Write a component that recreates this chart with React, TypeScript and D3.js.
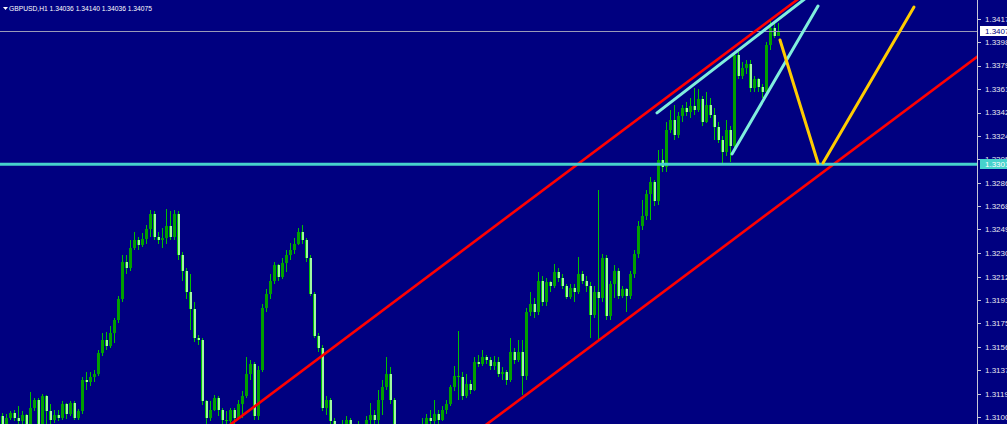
import React from 'react';
import * as d3 from 'd3';

const W = 1007;
const H = 424;
const PLOT_RIGHT = 977;

const symbolTitle = 'GBPUSD,H1';
const lastBar = [1.34036, 1.3414, 1.34036, 1.34075];
const bidPrice = 1.34075;
const levelPrice = 1.33015;

const priceTicks = [1.3417, 1.33988, 1.33799, 1.3361, 1.33425, 1.3324, 1.33055, 1.32865, 1.3268, 1.32499, 1.32308, 1.3212, 1.31935, 1.3175, 1.3156, 1.31375, 1.3119, 1.31005];

const opens = [
  1.3101,1.3095,1.3100,1.3104,1.3100,1.3097,1.3102,1.3095,1.3108,1.3114,
  1.3095,1.3117,1.3105,1.3098,1.3102,1.3100,1.3111,1.3103,1.3112,1.3100,
  1.3105,1.3130,1.3128,1.3132,1.3135,1.3151,1.3162,1.3157,1.3167,1.3178,
  1.3194,1.3224,1.3219,1.3235,1.3241,1.3237,1.3242,1.3250,1.3262,1.3244,
  1.3241,1.3243,1.3252,1.3244,1.3262,1.3229,1.3217,1.3200,1.3186,1.3163,
  1.3162,1.3113,1.3100,1.3106,1.3116,1.3106,1.3098,1.3097,1.3106,1.3100,
  1.3111,1.3117,1.3135,1.3143,1.3101,1.3138,1.3187,1.3198,1.3209,1.3221,
  1.3212,1.3223,1.3229,1.3233,1.3238,1.3248,1.3241,1.3227,1.3198,1.3165,
  1.3155,1.3108,1.3114,1.3097,1.3092,1.3089,1.3093,1.3098,1.3093,1.3089,
  1.3092,1.3090,1.3098,1.3102,1.3098,1.3114,1.3124,1.3135,1.3114,1.3090,
  1.3086,1.3082,1.3087,1.3084,1.3089,1.3092,1.3095,1.3100,1.3097,1.3103,
  1.3098,1.3106,1.3111,1.3124,1.3133,1.3132,1.3117,1.3127,1.3122,1.3144,
  1.3143,1.3148,1.3146,1.3141,1.3144,1.3135,1.3136,1.3130,1.3152,1.3146,
  1.3152,1.3133,1.3184,1.3190,1.3184,1.3209,1.3192,1.3208,1.3205,1.3216,
  1.3211,1.3205,1.3196,1.3203,1.3200,1.3214,1.3209,1.3205,1.3182,1.3200,
  1.3195,1.3227,1.3181,1.3206,1.3217,1.3197,1.3202,1.3197,1.3214,1.3230,
  1.3252,1.3260,1.3278,1.3287,1.3272,1.3305,1.3299,1.3329,1.3337,1.3325,
  1.3340,1.3346,1.3343,1.3348,1.3345,1.3353,1.3335,1.3349,1.3341,1.3331,
  1.3321,1.3311,1.3329,1.3316,1.3388,1.3372,1.3378,1.3381,1.3362,1.3369,
  1.3363,1.3359,1.3396,1.3410,1.34036,
];

const highs = [
  1.3104,1.3103,1.3105,1.3106,1.3109,1.3105,1.3103,1.3120,1.3116,1.3116,
  1.3119,1.3118,1.3111,1.3106,1.3106,1.3113,1.3112,1.3113,1.3113,1.3107,
  1.3132,1.3136,1.3136,1.3138,1.3154,1.3167,1.3168,1.3173,1.3179,1.3197,
  1.3229,1.3229,1.3241,1.3248,1.3244,1.3247,1.3253,1.3265,1.3264,1.3248,
  1.3251,1.3266,1.3264,1.3265,1.3264,1.3232,1.3219,1.3214,1.3192,1.3166,
  1.3163,1.3114,1.3113,1.3118,1.3117,1.3108,1.3105,1.3108,1.3108,1.3114,
  1.3121,1.3148,1.3146,1.3144,1.3141,1.3190,1.3202,1.3214,1.3224,1.3222,
  1.3227,1.3233,1.3239,1.3243,1.3251,1.3253,1.3243,1.3229,1.3200,1.3167,
  1.3158,1.3117,1.3116,1.3100,1.3095,1.3098,1.3101,1.3100,1.3095,1.3097,
  1.3095,1.3101,1.3112,1.3106,1.3122,1.3130,1.3148,1.3140,1.3116,1.3093,
  1.3090,1.3092,1.3090,1.3093,1.3095,1.3100,1.3103,1.3106,1.3114,1.3106,
  1.3109,1.3114,1.3126,1.3141,1.3169,1.3136,1.3135,1.3130,1.3148,1.3150,
  1.3154,1.3150,1.3148,1.3149,1.3148,1.3140,1.3138,1.3163,1.3155,1.3162,
  1.3162,1.3187,1.3200,1.3195,1.3216,1.3213,1.3211,1.3209,1.3222,1.3219,
  1.3214,1.3206,1.3206,1.3206,1.3228,1.3217,1.3213,1.3208,1.3205,1.3281,
  1.3230,1.3229,1.3209,1.3221,1.3219,1.3205,1.3203,1.3217,1.3233,1.3256,
  1.3273,1.3281,1.3291,1.3289,1.3313,1.3314,1.3335,1.3345,1.3349,1.3343,
  1.3349,1.3351,1.3354,1.3362,1.3361,1.3356,1.3359,1.3354,1.3346,1.3335,
  1.3324,1.3337,1.3332,1.3391,1.3391,1.3383,1.3384,1.3384,1.3372,1.3370,
  1.3365,1.3399,1.3416,1.3415,1.34140,
];

const lows = [
  1.3092,1.3093,1.3098,1.3097,1.3095,1.3094,1.3090,1.3093,1.3105,1.3092,
  1.3093,1.3095,1.3092,1.3096,1.3097,1.3098,1.3099,1.3101,1.3098,1.3098,
  1.3103,1.3122,1.3125,1.3128,1.3133,1.3149,1.3154,1.3155,1.3159,1.3175,
  1.3192,1.3214,1.3217,1.3233,1.3233,1.3236,1.3238,1.3244,1.3241,1.3238,
  1.3235,1.3238,1.3241,1.3241,1.3225,1.3209,1.3194,1.3170,1.3160,1.3158,
  1.3110,1.3095,1.3097,1.3105,1.3101,1.3095,1.3092,1.3093,1.3095,1.3098,
  1.3100,1.3116,1.3130,1.3098,1.3098,1.3136,1.3184,1.3194,1.3206,1.3209,
  1.3210,1.3216,1.3225,1.3230,1.3237,1.3238,1.3224,1.3197,1.3163,1.3152,
  1.3105,1.3102,1.3090,1.3086,1.3082,1.3084,1.3090,1.3089,1.3082,1.3086,
  1.3084,1.3087,1.3095,1.3093,1.3095,1.3102,1.3122,1.3111,1.3086,1.3079,
  1.3076,1.3078,1.3078,1.3081,1.3084,1.3087,1.3092,1.3093,1.3093,1.3093,
  1.3097,1.3103,1.3109,1.3121,1.3114,1.3114,1.3116,1.3119,1.3121,1.3140,
  1.3141,1.3143,1.3138,1.3138,1.3132,1.3130,1.3126,1.3128,1.3143,1.3144,
  1.3118,1.3130,1.3181,1.3179,1.3182,1.3189,1.3189,1.3200,1.3203,1.3208,
  1.3202,1.3194,1.3194,1.3192,1.3198,1.3206,1.3200,1.3163,1.3179,1.3162,
  1.3192,1.3178,1.3178,1.3195,1.3194,1.3195,1.3184,1.3194,1.3211,1.3227,
  1.3249,1.3257,1.3257,1.3268,1.3269,1.3295,1.3295,1.3326,1.3321,1.3322,
  1.3335,1.3340,1.3338,1.3341,1.3343,1.3332,1.3334,1.3338,1.3321,1.3318,
  1.3301,1.3308,1.3303,1.3313,1.3369,1.3369,1.3373,1.3359,1.3359,1.3359,
  1.3354,1.3356,1.3392,1.3402,1.34036,
];

const closes = [
  1.3095,1.3100,1.3104,1.3100,1.3097,1.3102,1.3095,1.3108,1.3114,1.3095,
  1.3117,1.3105,1.3098,1.3102,1.3100,1.3111,1.3103,1.3112,1.3100,1.3105,
  1.3130,1.3128,1.3132,1.3135,1.3151,1.3162,1.3157,1.3167,1.3178,1.3194,
  1.3224,1.3219,1.3235,1.3241,1.3237,1.3242,1.3250,1.3262,1.3244,1.3241,
  1.3243,1.3252,1.3244,1.3262,1.3229,1.3217,1.3200,1.3186,1.3163,1.3162,
  1.3113,1.3100,1.3106,1.3116,1.3106,1.3098,1.3097,1.3106,1.3100,1.3111,
  1.3117,1.3135,1.3143,1.3101,1.3138,1.3187,1.3198,1.3209,1.3221,1.3212,
  1.3223,1.3229,1.3233,1.3238,1.3248,1.3241,1.3227,1.3198,1.3165,1.3155,
  1.3108,1.3114,1.3097,1.3092,1.3089,1.3093,1.3098,1.3093,1.3089,1.3092,
  1.3090,1.3098,1.3102,1.3098,1.3114,1.3124,1.3135,1.3114,1.3090,1.3086,
  1.3082,1.3087,1.3084,1.3089,1.3092,1.3095,1.3100,1.3097,1.3103,1.3098,
  1.3106,1.3111,1.3124,1.3133,1.3132,1.3117,1.3127,1.3122,1.3144,1.3143,
  1.3148,1.3146,1.3141,1.3144,1.3135,1.3136,1.3130,1.3152,1.3146,1.3152,
  1.3133,1.3184,1.3190,1.3184,1.3209,1.3192,1.3208,1.3205,1.3216,1.3211,
  1.3205,1.3196,1.3203,1.3200,1.3214,1.3209,1.3205,1.3182,1.3200,1.3195,
  1.3227,1.3181,1.3206,1.3217,1.3197,1.3202,1.3197,1.3214,1.3230,1.3252,
  1.3260,1.3278,1.3287,1.3272,1.3305,1.3299,1.3329,1.3337,1.3325,1.3340,
  1.3346,1.3343,1.3348,1.3345,1.3353,1.3335,1.3349,1.3341,1.3331,1.3321,
  1.3311,1.3329,1.3316,1.3388,1.3372,1.3378,1.3381,1.3362,1.3369,1.3363,
  1.3359,1.3396,1.3410,1.34036,1.34075,
];

// trend lines: [barIndex, price] endpoints (bar index may run into the future)
const redChannel = [
  [[55.6, 1.3091], [200.4, 1.34361]],
  [[119.6, 1.3091], [245.75, 1.33916]],
];
const cyanWedge = [
  [[163.75, 1.33423], [201.0, 1.34337]],
  [[182.5, 1.33097], [204.0, 1.34273]],
];
const yellowPath = [
  [[194.5, 1.34003], [204.0, 1.33025]],
  [[205.25, 1.33025], [228.0, 1.34265]],
];

export default function App() {
  const n = closes.length;
  const x = d3.scaleLinear().domain([0, n - 1]).range([2, 778]);
  const y = d3.scaleLinear().domain([1.31005, 1.3417]).range([417, 19]);
  const line = d3.line<number[]>().x((d) => x(d[0])).y((d) => y(d[1]));

  const bars = closes.map((c, i) => {
    const o = opens[i];
    const cx = Math.round(x(i));
    const yo = Math.round(y(o));
    const yc = Math.round(y(c));
    const top = Math.min(yo, yc);
    const h = Math.max(1, Math.abs(yo - yc));
    const bull = c >= o;
    const yh = Math.round(y(highs[i]));
    const yl = Math.round(y(lows[i]));
    return (
      <g key={i}>
        <rect x={cx} y={yh} width={1} height={Math.max(1, yl - yh)} fill="#00c000" />
        <rect x={cx - 1} y={top} width={3} height={h} fill={bull ? '#00a000' : '#00c000'} />
        {!bull && h > 1 && <rect x={cx} y={top} width={2} height={h} fill="#a0f8a0" />}
      </g>
    );
  });

  const fontFam = '"Liberation Sans", Arial, sans-serif';

  return (
    <svg width={W} height={H} style={{ position: 'absolute', left: 0, top: 0, background: '#000080' }} shapeRendering="crispEdges">
      <defs>
        <clipPath id="plot">
          <rect x={0} y={0} width={PLOT_RIGHT} height={H} />
        </clipPath>
      </defs>
      <rect x={0} y={0} width={W} height={H} fill="#000080" />
      <g clipPath="url(#plot)">
        {bars}
        <line x1={0} x2={PLOT_RIGHT} y1={Math.round(y(bidPrice)) + 0.5} y2={Math.round(y(bidPrice)) + 0.5} stroke="#9a9ab8" strokeWidth={1} />
        <g shapeRendering="auto" fill="none">
          {redChannel.map((l, i) => (
            <path key={'r' + i} d={line(l) || ''} stroke="#ff0000" strokeWidth={2.6} />
          ))}
          <line x1={0} x2={PLOT_RIGHT} y1={y(levelPrice)} y2={y(levelPrice)} stroke="#46d2cc" strokeWidth={3.2} />
          {cyanWedge.map((l, i) => (
            <path key={'c' + i} d={line(l) || ''} stroke="#80eedd" strokeWidth={3} strokeLinecap="round" />
          ))}
          {yellowPath.map((l, i) => (
            <path key={'y' + i} d={line(l) || ''} stroke="#ffcc00" strokeWidth={3} strokeLinecap="round" />
          ))}
        </g>
      </g>
      {/* price axis */}
      <line x1={PLOT_RIGHT + 0.5} x2={PLOT_RIGHT + 0.5} y1={0} y2={H} stroke="#c8c8d8" strokeWidth={1} />
      {priceTicks.map((p) => (
        <g key={p}>
          <line x1={PLOT_RIGHT} x2={PLOT_RIGHT + 4} y1={Math.round(y(p)) + 0.5} y2={Math.round(y(p)) + 0.5} stroke="#c8c8d8" />
          <text x={985} y={y(p)} dy="0.35em" fill="#e6e6f0" fontSize={8} fontFamily={fontFam} shapeRendering="auto">
            {p.toFixed(5)}
          </text>
        </g>
      ))}
      <rect x={980} y={Math.round(y(bidPrice)) - 5} width={W - 980} height={10} fill="#ffffff" />
      <text x={985} y={y(bidPrice)} dy="0.35em" fill="#000080" fontSize={8} fontFamily={fontFam}>
        {bidPrice.toFixed(5)}
      </text>
      <rect x={980} y={Math.round(y(levelPrice)) - 5} width={W - 980} height={10} fill="#46d2cc" />
      <text x={985} y={y(levelPrice)} dy="0.35em" fill="#ffffff" fontSize={8} fontFamily={fontFam}>
        {levelPrice.toFixed(5)}
      </text>
      {/* title */}
      <path d="M3,7 L8,7 L5.5,10 Z" fill="#ffffff" shapeRendering="auto" />
      <text x={9} y={11} fill="#ffffff" fontSize={8} fontFamily={fontFam} textLength={143} lengthAdjust="spacingAndGlyphs">
        {symbolTitle + '  ' + lastBar.map((v) => v.toFixed(5)).join(' ')}
      </text>
    </svg>
  );
}
